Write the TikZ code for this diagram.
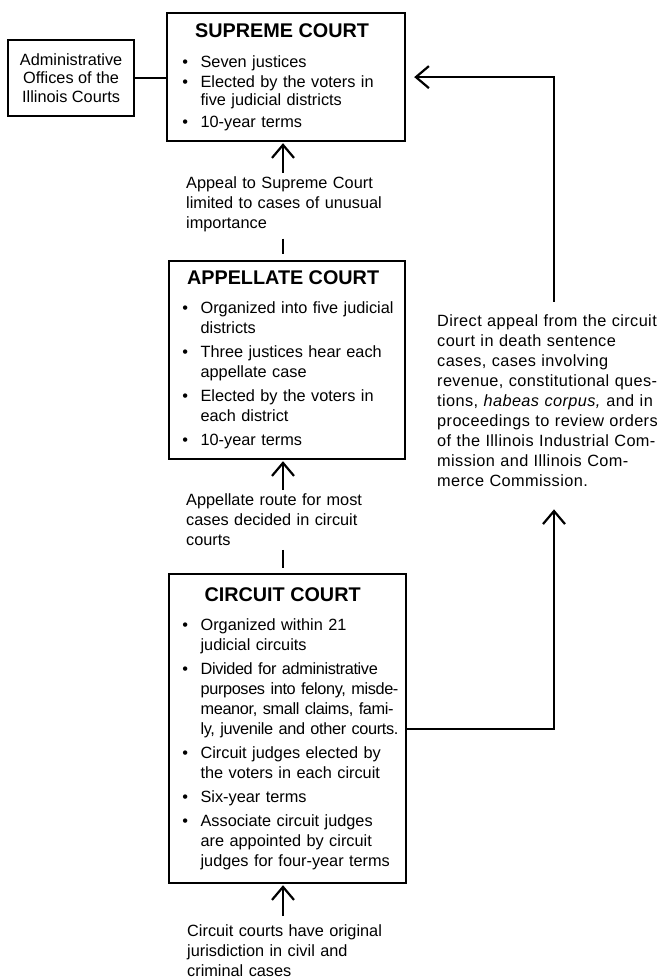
\documentclass[tikz,border=0pt]{standalone}
\usepackage{fontspec}
\setmainfont{Liberation Sans}
\usetikzlibrary{arrows.meta}
\newlength\bulw
\setlength\bulw{22.5pt}
\newcommand\nl{\hfil\break}
\newcommand\titl[2][0pt]{\noindent\makebox[\linewidth][c]{\kern#1\fontsize{19.8}{20}\selectfont\bfseries #2}\par}
\newcommand\bitem[2][0pt]{\par\vspace{#1}\hyphenpenalty=10000 \hangindent=\bulw\hangafter=1 \noindent\makebox[\bulw][l]{\hspace{4.15pt}\textbullet}#2\par}
\newcommand\jline[1]{\makebox[196.5pt][s]{\addfontfeature{LetterSpace=-2.2}#1}}
\begin{document}
\begin{tikzpicture}[x=1pt,y=-1pt,
  ln/.style={line width=2.2pt},
  arr/.style={ln,-{Straight Barb[length=13pt,width=22pt]}},
  box/.style={draw,line width=2.2pt,inner sep=0pt,anchor=north west},
  txt/.style={inner xsep=0pt,inner ysep=3pt,text width=240pt,align=left,anchor=base west,font=\fontsize{16.3}{20.2}\selectfont}]
\path[use as bounding box] (0,0) rectangle (657,978);
\coordinate (ax) at (283,0);
\coordinate (jx) at (554,0);

\node[box,minimum width=126pt,minimum height=76pt,align=center,font=\fontsize{16.3}{18.5}\selectfont] (adm) at (7,39)
  {Administrative\\Offices of the\\Illinois Courts};

\node[box,minimum width=238pt,minimum height=128pt,text width=216pt,font=\fontsize{16.3}{18}\selectfont] (sup) at (166,12)
  {\titl[-8pt]{SUPREME COURT}%
   \bitem[12pt]{Seven justices}%
   \bitem[2.5pt]{Elected by the voters in\nl five judicial districts}%
   \bitem[4pt]{10-year terms}};

\node[box,minimum width=236pt,minimum height=198pt,text width=218pt,font=\fontsize{16.3}{20}\selectfont] (app) at (168,260)
  {\titl[-8pt]{APPELLATE COURT}%
   \bitem[9pt]{Organized into five judicial\nl districts}%
   \bitem[4pt]{Three justices hear each\nl appellate case}%
   \bitem[4pt]{Elected by the voters in\nl each district}%
   \bitem[4pt]{10-year terms}};

\node[box,minimum width=237pt,minimum height=309pt,text width=219pt,font=\fontsize{16.3}{20}\selectfont] (circ) at (168,573)
  {\titl[-10pt]{CIRCUIT COURT}%
   \bitem[9pt]{Organized within 21\nl judicial circuits}%
   \bitem[4pt]{\jline{Divided for administrative}\nl\jline{purposes into felony, misde-}\nl\jline{meanor, small claims, fami-}\nl\jline{ly, juvenile and other courts.}}%
   \bitem[4pt]{Circuit judges elected by\nl the voters in each circuit}%
   \bitem[4pt]{Six-year terms}%
   \bitem[4pt]{Associate circuit judges\nl are appointed by circuit\nl judges for four-year terms}};

\node[txt] (t1) at (186,188) {Appeal to Supreme Court\\limited to cases of unusual\\importance};
\node[txt] (t2) at (186,505) {Appellate route for most\\cases decided in circuit\\courts};
\node[txt] (t3) at (187,936) {Circuit courts have original\\jurisdiction in civil and\\criminal cases};
\node[txt,font=\fontsize{16.3}{20}\selectfont\addfontfeature{LetterSpace=2.5}] (t4) at (437,326)
  {Direct appeal from the circuit\\court in death sentence\\cases, cases involving\\revenue, constitutional ques-\\tions, \textit{habeas corpus,} and in\\proceedings to review orders\\of the Illinois Industrial Com-\\mission and Illinois Com-\\merce Commission.};

\draw[ln] (adm.east) -- (adm.east -| sup.west);
\draw[arr,shorten >=1pt] (t1.north -| ax) -- (sup.south -| ax);
\draw[ln,shorten <=3.6pt,shorten >=6pt] (t1.south -| ax) -- (app.north -| ax);
\draw[arr,shorten >=1pt] (t2.north -| ax) -- (app.south -| ax);
\draw[ln,shorten <=1pt,shorten >=5.5pt] (t2.south -| ax) -- (circ.north -| ax);
\draw[arr,shorten <=5pt,shorten >=1pt] (t3.north -| ax) -- (circ.south -| ax);
\draw[arr,shorten >=20pt] (circ.east) -| (t4.south -| jx);
\draw[arr,shorten <=9.3pt,shorten >=8pt] (t4.north -| jx) |- (sup.east);
\end{tikzpicture}
\end{document}
